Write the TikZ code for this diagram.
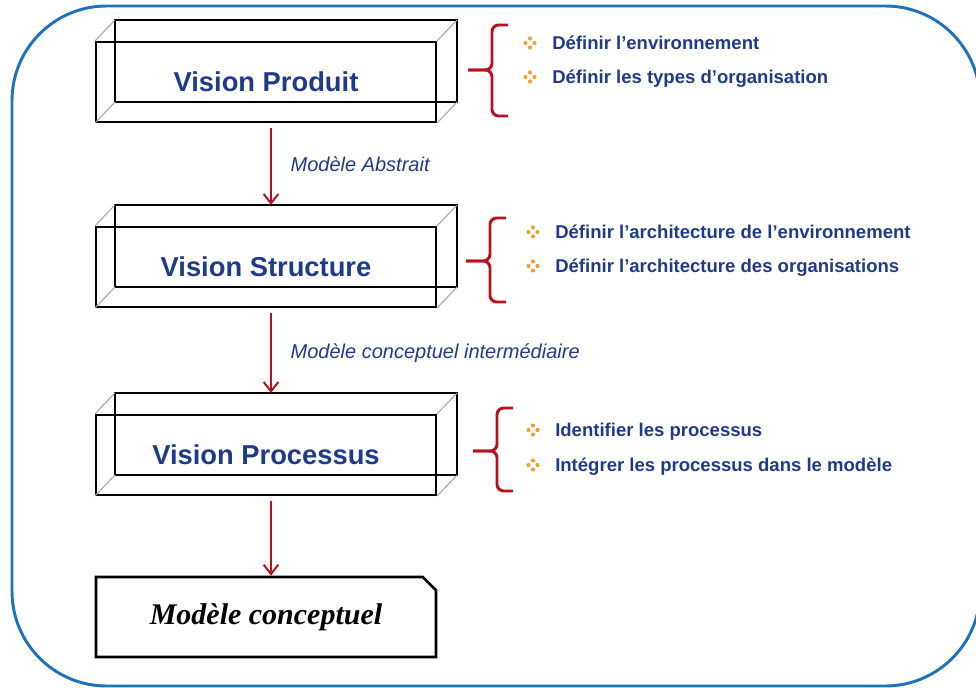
\documentclass[tikz,border=0pt]{standalone}
\usepackage{fontspec}
\setmainfont{Liberation Sans}
\newfontfamily\policeserif{Liberation Serif}
\usepackage{xcolor}
\usepackage{tikz}
\usetikzlibrary{calc,arrows.meta,shapes.misc}
\definecolor{bleutexte}{HTML}{1F3A88}
\definecolor{bleucadre}{HTML}{1F72B8}
\definecolor{rougefleche}{HTML}{B8101E}
\definecolor{orangepuce}{HTML}{EFA035}
\tikzset{vision/.style={draw=black, line width=1.6pt, minimum width=255pt, minimum height=60pt, inner sep=0pt, text=bleutexte, font=\bfseries\fontsize{20.5}{24}\selectfont}}
\tikzset{arriere/.style={draw=black, line width=1.2pt}}
\tikzset{arete/.style={draw=gray!70, line width=0.8pt}}
\tikzset{final/.style={draw=black, line width=2pt, chamfered rectangle, chamfered rectangle corners=north east, chamfered rectangle xsep=0pt, chamfered rectangle ysep=0pt, chamfered rectangle sep=5pt, minimum width=255pt, minimum height=60pt, inner sep=0pt, font=\policeserif\bfseries\itshape\fontsize{22.5}{26}\selectfont}}
\tikzset{fleche/.style={draw=rougefleche, line width=1.5pt, -{Straight Barb[length=7pt, width=11pt]}}}
\tikzset{accolade/.style={draw=rougefleche, line width=2.2pt, rounded corners=5pt}}
\tikzset{tache/.style={anchor=west, inner sep=0pt, text height=10pt, text depth=0pt, text=bleutexte, font=\bfseries\fontsize{13.9}{16}\selectfont}}
\tikzset{modele/.style={anchor=west, inner sep=0pt, text=bleutexte, font=\itshape\fontsize{15}{18}\selectfont}}
\tikzset{puce/.pic={\foreach \a in {0,90,180,270} \fill[orangepuce] (\a:4.5) circle (2.1);}}

\begin{document}
\begin{tikzpicture}[x=0.75pt, y=-0.75pt]
	\useasboundingbox (0,0) rectangle (976,688);
	\draw[bleucadre, line width=2.2pt, rounded corners=71pt] (12,6) rectangle (980,686);

	\node[vision] (produit) at (266,82) {Vision Produit};
	\node[vision] (structure) at (266,267) {Vision Structure};
	\node[vision] (processus) at (266,455) {Vision Processus};
	\node[final] (conceptuel) at (266,617) {Modèle conceptuel};

	\foreach \n in {produit,structure,processus} {
		\draw[arriere] ([shift={(20,-21)}]\n.south west) rectangle ([shift={(20,-21)}]\n.north east);
		\foreach \c in {north west,north east,south east,south west}
			\draw[arete] (\n.\c) -- ([shift={(20,-21)}]\n.\c);
	}

	\draw[fleche] ([shift={(5,5)}]produit.south) -- node[modele, midway, xshift=14pt, yshift=2pt] {Modèle Abstrait} ([shift={(5,-21)}]structure.north);
	\draw[fleche] ([shift={(5,5)}]structure.south) -- node[modele, midway, xshift=14pt] {Modèle conceptuel intermédiaire} ([shift={(5,-21)}]processus.north);
	\draw[fleche] ([shift={(5,5)}]processus.south) -- ([shift={(5,0)}]conceptuel.north);

	\foreach \x/\h/\m/\b in {492/25/70/116, 490/218/261/302, 497/408/451/491} {
		\draw[accolade] (\x+16,\h) -- (\x,\h) -- (\x,\m) -- (\x-24,\m);
		\draw[accolade] (\x-24,\m) -- (\x,\m) -- (\x,\b) -- (\x+16,\b);
	}

	\node[tache] (env) at (552,43) {Définir l’environnement};
	\node[tache] (types) at (552,77) {Définir les types d’organisation};
	\node[tache] (archenv) at (555,232) {Définir l’architecture de l’environnement};
	\node[tache] (archorg) at (555,266) {Définir l’architecture des organisations};
	\node[tache] (ident) at (555,430) {Identifier les processus};
	\node[tache] (integ) at (555,465) {Intégrer les processus dans le modèle};
	\foreach \t in {env,types,archenv,archorg,ident,integ}
		\pic at ([shift={(-22,0)}]\t.west) {puce};
\end{tikzpicture}
\end{document}
